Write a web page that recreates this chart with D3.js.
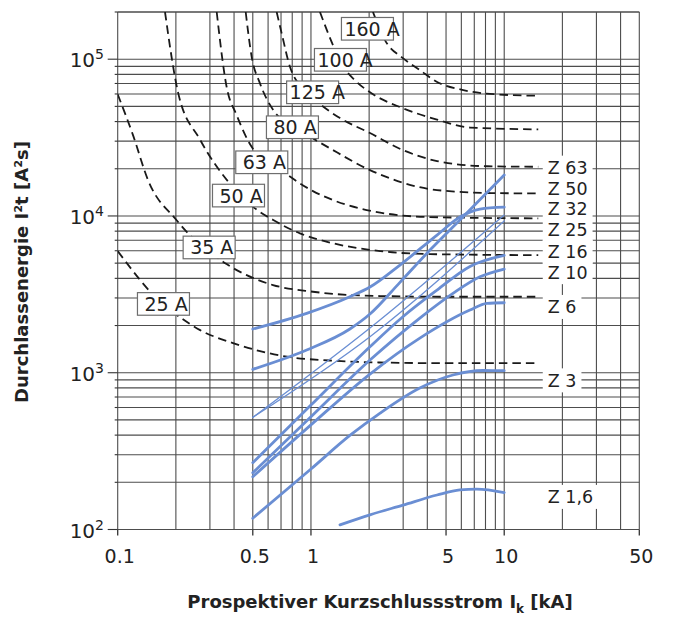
<!DOCTYPE html>
<html><head><meta charset="utf-8">
<script src="https://cdn.jsdelivr.net/npm/d3@7"></script>
<style>
body{margin:0;background:#fff}
svg{display:block}
text{font-family:"DejaVu Sans",sans-serif;fill:#222}
</style>
</head><body>
<svg id="chart" width="673" height="619"></svg>
<script>
// ---- data ----
const xTickValues = [0.1, 0.5, 1, 5, 10, 50];
const xTickLabels = ["0.1", "0.5", "1", "5", "10", "50"];
const yTickValues = [100, 1000, 10000, 100000];
const yTickExponents = ["2", "3", "4", "5"];

// fuse let-through curves (dashed): [kA, A²s]
const fuseNames = ["25 A", "35 A", "50 A", "63 A", "80 A", "125 A", "100 A", "160 A"];
const fuse25 = [[0.1,5970],[0.171,2740],[0.21,2260],[0.267,1870],[0.395,1546],[0.545,1374],[0.752,1265],[1.25,1197],[2.28,1162],[5.2,1150],[15,1150]];
const fuse35 = [[0.1,59650],[0.12,32800],[0.1435,16950],[0.2018,9390],[0.231,7757],[0.293,6060],[0.366,4930],[0.465,4196],[0.636,3625],[1.024,3286],[2.28,3084],[5.2,3053],[15,3053]];
const fuse50 = [[0.1757,200000],[0.2058,60500],[0.2666,30700],[0.3735,16530],[0.513,11180],[0.638,9420],[0.877,7745],[1.304,6690],[2.28,5970],[4.13,5710],[15,5625]];
const fuse63 = [[0.3253,200000],[0.366,66700],[0.4126,44000],[0.4934,27600],[0.7575,18240],[1.024,14410],[1.3,12630],[2.28,10510],[4.13,9840],[15,9654]];
const fuse80 = [[0.4595,200000],[0.4934,103600],[0.5448,70100],[0.638,47360],[0.877,35300],[1.3,26320],[2.02,19620],[4.49,14630],[8.56,14000],[15,13930]];
const fuse125 = [[0.6646,200000],[0.7055,146100],[0.7787,89430],[0.877,67400],[1.113,51700],[1.413,42120],[2.02,33790],[2.99,26320],[4.49,22400],[8.14,20750],[15,20600]];
const fuse100 = [[1.113,200000],[1.3,123000],[1.464,90360],[1.689,73370],[2.02,61500],[2.99,48640],[4.49,41200],[6.65,36630],[15,35670]];
const fuse160 = [[2.093,200000],[2.414,132400],[3.003,101200],[3.66,85200],[4.47,71770],[6.14,63530],[9.14,59650],[15,58430]];
const fuseCurves = [fuse25, fuse35, fuse50, fuse63, fuse80, fuse125, fuse100, fuse160];
// label box centres [kA, A²s]
const fuseLabelX = [0.1725, 0.2973, 0.4217, 0.5565, 0.802, 1.02, 1.421, 1.96];
const fuseLabelY = [2747, 6297, 13490, 22000, 36800, 61500, 99100, 156300];

// MCB let-through curves (blue): [kA, A²s]
const zNames = ["Z 63", "Z 50", "Z 32", "Z 25", "Z 16", "Z 10", "Z 6", "Z 3", "Z 1,6"];
const z63 = [[0.5,1051],[0.95,1396],[1.59,1900],[2.02,2368],[2.887,3770],[4.13,6060],[5.9,9417],[10,18230]];
const z50 = [[0.5,1900],[0.95,2392],[1.59,3053],[2.02,3520],[2.887,4863],[4.49,7553],[5.9,9840],[7.49,11070],[10,11390]];
const z32 = [[0.5,519],[2.02,1928],[10,10130]];
const z25 = [[0.5,519],[2.02,1697],[10,9280]];
const z16 = [[0.5,267],[1,622],[2.02,1465],[2.99,2276],[4.49,3365],[6.65,4764],[10,5600]];
const z10 = [[0.5,230],[1,524],[2.02,1205],[3.66,2233],[5.43,3209],[7.49,4095],[10,4585]];
const z6  = [[0.5,217],[1,465],[2.02,981],[3.66,1664],[6.65,2512],[8.14,2771],[10,2795]];
const z3  = [[0.5,118],[1,243],[1.59,398],[2.28,553],[3.66,799],[5.43,967],[7.79,1033],[10,1030]];
const z1_6 = [[1.413,107],[2.02,124],[2.99,143],[4.49,166],[5.9,179],[7.2,181],[10,172]];
const zCurves = [z63, z50, z32, z25, z16, z10, z6, z3, z1_6];
const zThin = [false, false, true, true, false, false, false, false, false];
const zLabelX = 16.8;
const zLabelY = [20330, 15040, 11130, 8237, 5921, 4381, 2628, 894, 161.4];

// ---- chart ----
const svg = d3.select("#chart");
const x = d3.scaleLog().domain([0.1, 50]).range([117.7, 639.3]);
const y = d3.scaleLog().domain([100, 200000]).range([529.5, 12]);
const [x0, x1] = x.range();
const [yb, yt] = y.range();
const gridColor = "#4d4d4d";

// grid
const grid = svg.append("g");
grid.selectAll("line.v").data(x.ticks()).join("line")
  .attr("x1", d => x(d)).attr("x2", d => x(d)).attr("y1", yt).attr("y2", yb)
  .attr("stroke", gridColor).attr("stroke-width", 1.1);
grid.selectAll("line.h").data(y.ticks()).join("line")
  .attr("x1", x0).attr("x2", x1).attr("y1", d => y(d)).attr("y2", d => y(d))
  .attr("stroke", gridColor).attr("stroke-width", 1.1);
grid.append("line").attr("x1", x0).attr("x2", x1).attr("y1", yt).attr("y2", yt)
  .attr("stroke", gridColor).attr("stroke-width", 1.1);

// y ticks outward
svg.append("g").selectAll("line").data(y.ticks()).join("line")
  .attr("x1", d => yTickValues.includes(d) ? x0 - 10 : x0 - 3).attr("x2", x0)
  .attr("y1", d => y(d)).attr("y2", d => y(d))
  .attr("stroke", "#333").attr("stroke-width", 1.1);
// x ticks outward
svg.append("g").selectAll("line").data(xTickValues).join("line")
  .attr("x1", d => x(d)).attr("x2", d => x(d)).attr("y1", yb).attr("y2", yb + 6)
  .attr("stroke", "#333").attr("stroke-width", 1.3);

// x tick labels
svg.append("g").selectAll("text").data(xTickValues).join("text")
  .attr("x", d => x(d) + 2).attr("y", 563).attr("text-anchor", "middle")
  .attr("font-size", 19).text((d, i) => xTickLabels[i]);

// y tick labels
const yl = svg.append("g").selectAll("text").data(yTickValues).join("text")
  .attr("x", 104).attr("y", d => y(d) + 8).attr("text-anchor", "end").attr("font-size", 20);
yl.append("tspan").text("10");
yl.append("tspan").attr("dy", -8).attr("font-size", 14).text((d, i) => yTickExponents[i]);

// clip
svg.append("clipPath").attr("id", "plot").append("rect")
  .attr("x", x0).attr("y", yt).attr("width", x1 - x0).attr("height", yb - yt);

// fuse curves
const line = d3.line().x(d => x(d[0])).y(d => y(d[1])).curve(d3.curveMonotoneX);
svg.append("g").attr("clip-path", "url(#plot)").selectAll("path").data(fuseCurves).join("path")
  .attr("d", line).attr("fill", "none").attr("stroke", "#1a1a1a")
  .attr("stroke-width", 1.8).attr("stroke-dasharray", "8.5,5");

// blue curves
const bline = d3.line().x(d => x(d[0])).y(d => y(d[1])).curve(d3.curveMonotoneX);
svg.append("g").selectAll("path").data(zCurves).join("path")
  .attr("d", bline).attr("fill", "none").attr("stroke", "#6a8ed3")
  .attr("stroke-width", (d, i) => zThin[i] ? 1.3 : 2.8).attr("stroke-linecap", "round");

// fuse labels
const fl = svg.append("g").selectAll("g").data(fuseNames).join("g")
  .attr("transform", (d, i) => `translate(${x(fuseLabelX[i])},${y(fuseLabelY[i])})`);
fl.append("rect").attr("x", -26).attr("y", -11.3).attr("width", 52).attr("height", 22.6)
  .attr("fill", "#fff").attr("stroke", "#6e6e6e").attr("stroke-width", 1.2);
fl.append("text").attr("x", d => d.length > 4 ? -23 : -19).attr("y", 7).attr("font-size", 19).text(d => d);

// Z labels
const zl = svg.append("g").selectAll("g").data(zNames).join("g")
  .attr("transform", (d, i) => `translate(${x(zLabelX)},${y(zLabelY[i])})`);
zl.append("rect").attr("class", "bg").attr("fill", "#fff");
zl.append("text").attr("x", 0).attr("y", 6.4).attr("font-size", 17.5).text(d => d);
zl.each(function() {
  const g = d3.select(this);
  const w = g.select("text").node().getComputedTextLength();
  g.select("rect").attr("x", -5).attr("y", -12).attr("width", w + 10).attr("height", 24);
});

// axis titles
svg.append("text").attr("transform", "translate(28,272) rotate(-90)")
  .attr("text-anchor", "middle").attr("font-size", 18).attr("font-weight", "bold")
  .text("Durchlassenergie I²t [A²s]");
const xt = svg.append("text").attr("x", 380).attr("y", 608).attr("text-anchor", "middle")
  .attr("font-size", 18).attr("font-weight", "bold");
xt.append("tspan").text("Prospektiver Kurzschlussstrom I");
xt.append("tspan").attr("font-size", 12).attr("dy", 5).text("k");
xt.append("tspan").attr("dy", -5).text(" [kA]");
</script>
</body></html>
